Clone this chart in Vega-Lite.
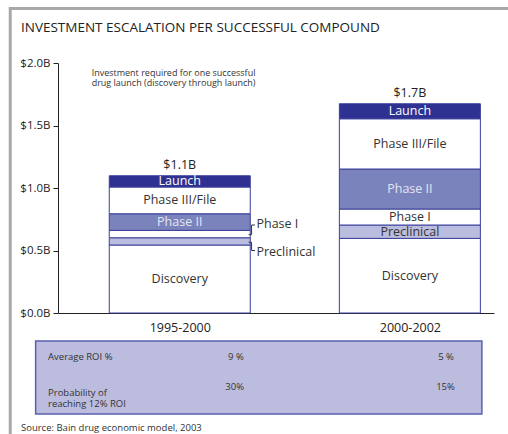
{
  "$schema": "https://vega.github.io/schema/vega-lite/v6.json",
  "width": 436,
  "height": 250,
  "autosize": {"type": "none"},
  "padding": {"left": 58, "top": 63, "right": 14, "bottom": 121},
  "background": "white",
  "config": {
    "font": "Open Sans",
    "view": {"stroke": null},
    "axis": {"labelColor": "#222", "domainColor": "#222", "tickColor": "#222", "labelFont": "Open Sans"}
  },
  "datasets": {
    "frame": [{"x0": 0.2633, "x1": 2.7, "y0": -1.3, "y1": 2.436}],
    "heading": [{"text": "INVESTMENT ESCALATION PER SUCCESSFUL COMPOUND", "x": 0.31, "y": 2.28}],
    "tablebox": [{"x0": 0.3737, "x1": 2.313, "y0": -0.808, "y1": -0.224}],
    "costs": [
      {"period": "1995-2000", "pos": 1, "segment": "Discovery", "order": 1, "value": 0.544},
      {"period": "1995-2000", "pos": 1, "segment": "Preclinical", "order": 2, "value": 0.058},
      {"period": "1995-2000", "pos": 1, "segment": "Phase I", "order": 3, "value": 0.059},
      {"period": "1995-2000", "pos": 1, "segment": "Phase II", "order": 4, "value": 0.133},
      {"period": "1995-2000", "pos": 1, "segment": "Phase III/File", "order": 5, "value": 0.214},
      {"period": "1995-2000", "pos": 1, "segment": "Launch", "order": 6, "value": 0.09},
      {"period": "2000-2002", "pos": 2, "segment": "Discovery", "order": 1, "value": 0.597},
      {"period": "2000-2002", "pos": 2, "segment": "Preclinical", "order": 2, "value": 0.107},
      {"period": "2000-2002", "pos": 2, "segment": "Phase I", "order": 3, "value": 0.128},
      {"period": "2000-2002", "pos": 2, "segment": "Phase II", "order": 4, "value": 0.32},
      {"period": "2000-2002", "pos": 2, "segment": "Phase III/File", "order": 5, "value": 0.402},
      {"period": "2000-2002", "pos": 2, "segment": "Launch", "order": 6, "value": 0.12}
    ],
    "totals": [
      {"pos": 1, "total": 1.098, "label": "$1.1B"},
      {"pos": 2, "total": 1.674, "label": "$1.7B"}
    ],
    "callouts": [
      {"callout": "Phase I", "ord": 1, "x": 1.2994, "y": 0.6264},
      {"callout": "Phase I", "ord": 2, "x": 1.3121, "y": 0.6264},
      {"callout": "Phase I", "ord": 3, "x": 1.3121, "y": 0.704},
      {"callout": "Phase I", "ord": 4, "x": 1.327, "y": 0.704},
      {"callout": "Preclinical", "ord": 1, "x": 1.2994, "y": 0.5656},
      {"callout": "Preclinical", "ord": 2, "x": 1.3121, "y": 0.5656},
      {"callout": "Preclinical", "ord": 3, "x": 1.3121, "y": 0.5},
      {"callout": "Preclinical", "ord": 4, "x": 1.327, "y": 0.5}
    ],
    "calloutlabels": [
      {"label": "Phase I", "x": 1.3333, "y": 0.712},
      {"label": "Preclinical", "x": 1.3333, "y": 0.488}
    ],
    "subtitle": [
      {"text": "Investment required for one successful\ndrug launch (discovery through launch)", "x": 0.617, "y": 1.9176}
    ],
    "tablelabels": [
      {"text": "Average ROI %", "x": 0.4276, "y": -0.3496},
      {"text": "Probability of\nreaching 12% ROI", "x": 0.4276, "y": -0.64}
    ],
    "tablevalues": [
      {"metric": "Average ROI %", "period": "1995-2000", "text": "9 %", "x": 1.2442, "y": -0.3496},
      {"metric": "Average ROI %", "period": "2000-2002", "text": "5 %", "x": 2.1571, "y": -0.3496},
      {"metric": "Probability of reaching 12% ROI", "period": "1995-2000", "text": "30%", "x": 1.2386, "y": -0.5896},
      {"metric": "Probability of reaching 12% ROI", "period": "2000-2002", "text": "15%", "x": 2.155, "y": -0.5896}
    ],
    "source": [
      {"text": "Source: Bain drug economic model, 2003", "x": 0.31, "y": -0.9224}
    ]
  },
  "layer": [
    {
      "data": {"name": "frame"},
      "mark": {"type": "rect", "fillOpacity": 0, "stroke": "#a8a8a8", "strokeWidth": 3},
      "encoding": {
        "x": {"field": "x0", "type": "quantitative", "scale": {"domain": [0.4926, 2.3439], "nice": false, "zero": false}},
        "x2": {"field": "x1"},
        "y": {"field": "y0", "type": "quantitative", "scale": {"domain": [0, 2], "nice": false, "zero": false}},
        "y2": {"field": "y1"}
      }
    },
    {
      "data": {"name": "heading"},
      "mark": {"type": "text", "fontSize": 13.5, "baseline": "middle", "align": "left", "color": "#222"},
      "encoding": {
        "x": {"field": "x", "type": "quantitative", "scale": {"domain": [0.4926, 2.3439], "nice": false, "zero": false}},
        "y": {"field": "y", "type": "quantitative", "scale": {"domain": [0, 2], "nice": false, "zero": false}},
        "text": {"field": "text"}
      }
    },
    {
      "data": {"name": "tablebox"},
      "mark": {"type": "rect", "fill": "#bbbcde", "stroke": "#5a60b0", "strokeWidth": 1.5},
      "encoding": {
        "x": {"field": "x0", "type": "quantitative", "scale": {"domain": [0.4926, 2.3439], "nice": false, "zero": false}},
        "x2": {"field": "x1"},
        "y": {"field": "y0", "type": "quantitative", "scale": {"domain": [0, 2], "nice": false, "zero": false}},
        "y2": {"field": "y1"}
      }
    },
    {
      "data": {"name": "costs"},
      "transform": [
        {"stack": "value", "groupby": ["pos"], "sort": [{"field": "order", "order": "ascending"}], "as": ["v0", "v1"]}
      ],
      "mark": {"type": "bar", "width": 141, "stroke": "#3b3f9a", "strokeWidth": 1},
      "encoding": {
        "x": {
          "field": "pos", "type": "quantitative",
          "scale": {"domain": [0.4926, 2.3439], "nice": false, "zero": false},
          "axis": {"values": [1, 2], "labelExpr": "datum.value == 1 ? '1995-2000' : '2000-2002'", "ticks": false, "grid": false, "title": null, "labelFontSize": 12.5, "labelPadding": 8, "domainWidth": 1}
        },
        "y": {
          "field": "v1", "type": "quantitative",
          "scale": {"domain": [0, 2], "nice": false, "zero": false},
          "axis": {"values": [0, 0.5, 1, 1.5, 2], "labelExpr": "'$' + format(datum.value, '.1f') + 'B'", "grid": false, "title": null, "tickSize": 5, "labelPadding": 3, "labelFontSize": 11.5, "domainWidth": 1}
        },
        "y2": {"field": "v0"},
        "color": {
          "field": "segment", "type": "nominal",
          "scale": {"domain": ["Discovery", "Preclinical", "Phase I", "Phase II", "Phase III/File", "Launch"], "range": ["#ffffff", "#bbbddf", "#ffffff", "#7b83bc", "#ffffff", "#2e3192"]},
          "legend": null
        }
      }
    },
    {
      "data": {"name": "costs"},
      "transform": [
        {"stack": "value", "groupby": ["pos"], "sort": [{"field": "order", "order": "ascending"}], "as": ["v0", "v1"]},
        {"calculate": "(datum.v0 + datum.v1) / 2", "as": "mid"},
        {"filter": "datum.pos == 2 || (datum.segment != 'Preclinical' && datum.segment != 'Phase I')"}
      ],
      "mark": {"type": "text", "fontSize": 12.5, "baseline": "middle", "align": "center"},
      "encoding": {
        "x": {"field": "pos", "type": "quantitative", "scale": {"domain": [0.4926, 2.3439], "nice": false, "zero": false}},
        "y": {"field": "mid", "type": "quantitative", "scale": {"domain": [0, 2], "nice": false, "zero": false}},
        "text": {"field": "segment"},
        "color": {
          "condition": [
            {"test": "datum.segment == 'Launch'", "value": "#ffffff"},
            {"test": "datum.segment == 'Phase II'", "value": "#e4e5f3"}
          ],
          "value": "#333333"
        }
      }
    },
    {
      "data": {"name": "totals"},
      "mark": {"type": "text", "fontSize": 12.5, "baseline": "alphabetic", "align": "center", "dy": -6.5, "color": "#222"},
      "encoding": {
        "x": {"field": "pos", "type": "quantitative", "scale": {"domain": [0.4926, 2.3439], "nice": false, "zero": false}},
        "y": {"field": "total", "type": "quantitative", "scale": {"domain": [0, 2], "nice": false, "zero": false}},
        "text": {"field": "label"}
      }
    },
    {
      "data": {"name": "callouts"},
      "mark": {"type": "line", "color": "#333", "strokeWidth": 1, "interpolate": "linear"},
      "encoding": {
        "x": {"field": "x", "type": "quantitative", "scale": {"domain": [0.4926, 2.3439], "nice": false, "zero": false}},
        "y": {"field": "y", "type": "quantitative", "scale": {"domain": [0, 2], "nice": false, "zero": false}},
        "detail": {"field": "callout"},
        "order": {"field": "ord"}
      }
    },
    {
      "data": {"name": "calloutlabels"},
      "mark": {"type": "text", "fontSize": 12.5, "baseline": "middle", "align": "left", "color": "#333"},
      "encoding": {
        "x": {"field": "x", "type": "quantitative", "scale": {"domain": [0.4926, 2.3439], "nice": false, "zero": false}},
        "y": {"field": "y", "type": "quantitative", "scale": {"domain": [0, 2], "nice": false, "zero": false}},
        "text": {"field": "label"}
      }
    },
    {
      "data": {"name": "subtitle"},
      "mark": {"type": "text", "fontSize": 9, "baseline": "middle", "align": "left", "color": "#333", "lineBreak": "\n", "lineHeight": 10},
      "encoding": {
        "x": {"field": "x", "type": "quantitative", "scale": {"domain": [0.4926, 2.3439], "nice": false, "zero": false}},
        "y": {"field": "y", "type": "quantitative", "scale": {"domain": [0, 2], "nice": false, "zero": false}},
        "text": {"field": "text"}
      }
    },
    {
      "data": {"name": "tablelabels"},
      "mark": {"type": "text", "fontSize": 9.5, "baseline": "middle", "align": "left", "color": "#333", "lineBreak": "\n", "lineHeight": 11.4},
      "encoding": {
        "x": {"field": "x", "type": "quantitative", "scale": {"domain": [0.4926, 2.3439], "nice": false, "zero": false}},
        "y": {"field": "y", "type": "quantitative", "scale": {"domain": [0, 2], "nice": false, "zero": false}},
        "text": {"field": "text"}
      }
    },
    {
      "data": {"name": "tablevalues"},
      "mark": {"type": "text", "fontSize": 9.5, "baseline": "middle", "align": "center", "color": "#333"},
      "encoding": {
        "x": {"field": "x", "type": "quantitative", "scale": {"domain": [0.4926, 2.3439], "nice": false, "zero": false}},
        "y": {"field": "y", "type": "quantitative", "scale": {"domain": [0, 2], "nice": false, "zero": false}},
        "text": {"field": "text"}
      }
    },
    {
      "data": {"name": "source"},
      "mark": {"type": "text", "fontSize": 9.5, "baseline": "middle", "align": "left", "color": "#333"},
      "encoding": {
        "x": {"field": "x", "type": "quantitative", "scale": {"domain": [0.4926, 2.3439], "nice": false, "zero": false}},
        "y": {"field": "y", "type": "quantitative", "scale": {"domain": [0, 2], "nice": false, "zero": false}},
        "text": {"field": "text"}
      }
    }
  ]
}
